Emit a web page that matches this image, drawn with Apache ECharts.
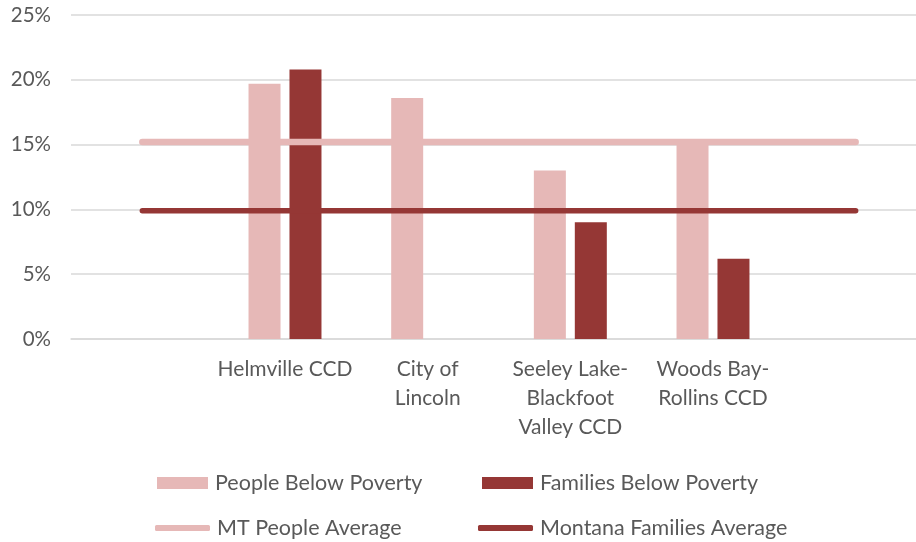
<!DOCTYPE html>
<html>
<head>
<meta charset="utf-8">
<style>
  html, body { margin: 0; padding: 0; background: #fff; }
  #chart { width: 916px; height: 542px; }
</style>
<script src="https://cdn.jsdelivr.net/npm/echarts@6/dist/echarts.min.js"></script>
</head>
<body>
<div id="chart"></div>
<script>
// Poverty rates by place, with statewide averages as reference lines
const categories = ['', 'Helmville CCD', 'City of\nLincoln', 'Seeley Lake-\nBlackfoot\nValley CCD', 'Woods Bay-\nRollins CCD', ''];
const peopleBelowPoverty = [null, 19.7, 18.6, 13.0, 15.3, null];
const familiesBelowPoverty = [null, 20.8, null, 9.0, 6.2, null];
const mtPeopleAverage = [15.2, 15.2, 15.2, 15.2, 15.2, 15.2];
const montanaFamiliesAverage = [9.9, 9.9, 9.9, 9.9, 9.9, 9.9];
const yTicks = { min: 0, max: 25, interval: 5 };

const LIGHT = '#E6B8B7';
const DARK = '#953735';
const TEXT = '#595959';
const FONT = 'Lato, "Noto Sans", sans-serif';

const chart = echarts.init(document.getElementById('chart'));

function legendAt(name, left, top, icon, w, h) {
  return {
    data: [name],
    left: left,
    top: top,
    padding: 0,
    icon: icon,
    itemWidth: w,
    itemHeight: h,
    itemGap: 0,
    selectedMode: false,
    textStyle: { color: TEXT, fontSize: 21.5, fontFamily: FONT, padding: [0, 0, 0, 2] }
  };
}

chart.setOption({
  animation: false,
  grid: {
    left: 71, top: 15, width: 856, bottom: 203,
    containLabel: false,
    outerBoundsMode: 'none'
  },
  legend: [
    legendAt('People Below Poverty', 157, 472, 'rect', 51, 12),
    legendAt('Families Below Poverty', 482, 472, 'rect', 51, 12),
    legendAt('MT People Average', 155, 517, 'roundRect', 55, 6),
    legendAt('Montana Families Average', 478, 517, 'roundRect', 55, 6)
  ],
  xAxis: {
    type: 'category',
    data: categories,
    boundaryGap: true,
    axisLine: { show: true, lineStyle: { color: '#d9d9d9', width: 1.5 } },
    axisTick: { show: false },
    axisLabel: {
      interval: 0,
      color: TEXT,
      fontSize: 21,
      fontFamily: FONT,
      lineHeight: 29,
      margin: 16
    }
  },
  yAxis: {
    type: 'value',
    min: yTicks.min,
    max: yTicks.max,
    interval: yTicks.interval,
    axisLine: { show: false },
    axisTick: { show: false },
    splitLine: { lineStyle: { color: '#d9d9d9', width: 1.5 } },
    axisLabel: {
      formatter: '{value}%',
      color: TEXT,
      fontSize: 20.5,
      fontFamily: FONT,
      margin: 20
    }
  },
  series: [
    {
      name: 'People Below Poverty',
      type: 'bar',
      data: peopleBelowPoverty,
      barWidth: 32,
      barGap: '28%',
      itemStyle: { color: LIGHT },
      z: 1
    },
    {
      name: 'Families Below Poverty',
      type: 'bar',
      data: familiesBelowPoverty,
      barWidth: 32,
      barGap: '28%',
      itemStyle: { color: DARK },
      z: 1
    },
    {
      name: 'MT People Average',
      type: 'line',
      data: mtPeopleAverage,
      symbol: 'none',
      showSymbol: false,
      itemStyle: { color: LIGHT },
      lineStyle: { color: LIGHT, width: 6.5, cap: 'round' },
      z: 3
    },
    {
      name: 'Montana Families Average',
      type: 'line',
      data: montanaFamiliesAverage,
      symbol: 'none',
      showSymbol: false,
      itemStyle: { color: DARK },
      lineStyle: { color: DARK, width: 5.5, cap: 'round' },
      z: 4
    }
  ]
});
</script>
</body>
</html>
